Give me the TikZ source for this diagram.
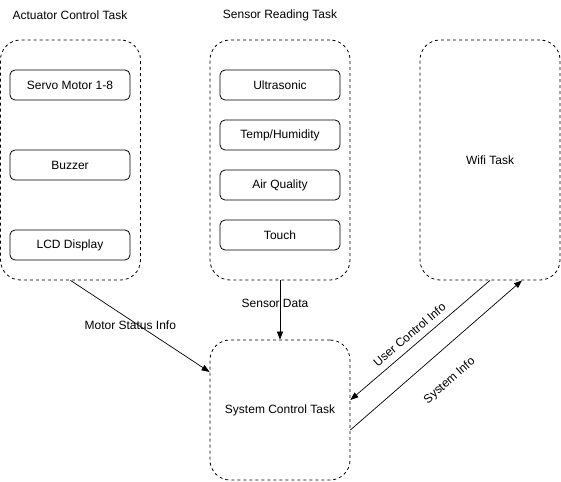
\documentclass[tikz,border=0pt]{standalone}
\usepackage{fontspec}
\setmainfont{Liberation Sans}
\usepackage{tikz}
\usetikzlibrary{arrows.meta}

\tikzset{
  taskgroup/.style={draw,line width=0.8pt,dash pattern=on 3pt off 3pt,rounded corners=20pt,
    minimum width=140pt,minimum height=240pt,inner sep=0pt},
  subtask/.style={draw,line width=0.8pt,rounded corners=5pt,minimum width=120pt,minimum height=30pt,inner sep=0pt},
  flow/.style={-{Triangle[length=8pt,width=6pt]},line width=0.7pt}
}

\begin{document}
\begin{tikzpicture}[x=1pt,y=-1pt,font=\fontsize{12}{14}\selectfont]
  \useasboundingbox (0,0) rectangle (561,481);
  % task groups
  \node[taskgroup] (act) at (70.5,160) {};
  \node[taskgroup] (sen) at (280,160) {};
  \node[taskgroup] (wifi) at (490,160) {Wifi Task};
  \node[taskgroup,minimum height=140pt] (sys) at (280,410) {System Control Task};
  \node (acttitle) at (70,15) {Actuator Control Task};
  \node (sentitle) at (280,15) {Sensor Reading Task};
  % actuators
  \node[subtask] (servo) at (70,85) {Servo Motor 1-8};
  \node[subtask] (buzz) at (70,165) {Buzzer};
  \node[subtask] (lcd) at (70,245) {LCD Display};
  % sensors
  \node[subtask] (ultra) at (280,85) {Ultrasonic};
  \node[subtask] (temp) at (280,135) {Temp/Humidity};
  \node[subtask] (air) at (280,185) {Air Quality};
  \node[subtask] (touch) at (280,235) {Touch};
  % data flows
  \draw[flow] (act.south) -- ([yshift=38pt]sys.west)
    node[pos=0.43,yshift=-5pt] {Motor Status Info};
  \draw[flow] (sen.south) -- (sys.north)
    node[pos=0.38,xshift=-5pt] {Sensor Data};
  \draw[flow] (wifi.south) -- ([yshift=10pt]sys.east)
    node[pos=0.525,sloped,above=3pt] {User Control Info};
  \draw[flow] ([yshift=-20pt]sys.east) -- ([xshift=32pt]wifi.south)
    node[pos=0.47,sloped,below=19pt] {System Info};
\end{tikzpicture}
\end{document}
